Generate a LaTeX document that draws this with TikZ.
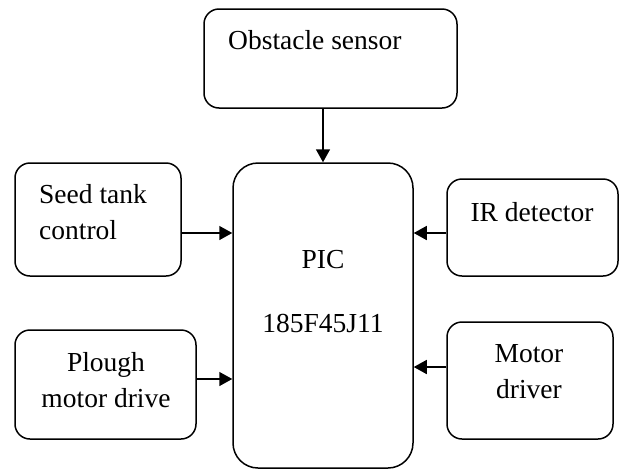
\documentclass[tikz,border=0pt]{standalone}
\usepackage{fontspec}
\setmainfont{Liberation Serif}
\usetikzlibrary{arrows.meta}
\begin{document}
\begin{tikzpicture}[x=1pt,y=-1pt,
  box/.style={draw, line width=1.5pt, rounded corners=15pt, inner sep=0pt},
  lbl/.style={font=\fontsize{27.5}{36}\selectfont, inner sep=0pt},
  arr/.style={line width=1.5pt, -{Triangle[length=13pt,width=14pt]}}]
\useasboundingbox (0,0) rectangle (619,472);
% boxes
\node[box, minimum width=253pt, minimum height=99pt] (obs) at (330.5,58.5) {};
\node[box, rounded corners=25pt, minimum width=180pt, minimum height=305pt] (pic) at (323,315.5) {};
\node[box, minimum width=166pt, minimum height=113pt] (seed) at (98,219.5) {};
\node[box, minimum width=181pt, minimum height=109pt] (plough) at (105.5,384.5) {};
\node[box, minimum width=171pt, minimum height=97pt] (ir) at (532.5,227.5) {};
\node[box, minimum width=166pt, minimum height=117pt] (motor) at (530,380.5) {};
% texts
\node[lbl, anchor=west] (tobs) at (228,40) {Obstacle sensor};
\node[lbl] (tpic1) at (323,260) {PIC};
\node[lbl] (tpic2) at (323,323) {185F45J11};
\node[lbl, anchor=west, align=left] (tseed) at (39,212.5) {Seed tank\\control};
\node[lbl, align=center] (tplough) at (106,380) {Plough\\motor drive};
\node[lbl] (tir) at (532,212) {IR detector};
\node[lbl, align=center] (tmotor) at (529,371.5) {Motor\\driver};
% connector levels
\coordinate (yA) at (0,233);
\coordinate (yB) at (0,379);
\coordinate (yC) at (0,367);
\draw[arr] (obs.south -| pic.north) -- (pic.north);
\draw[arr] (seed.east |- yA) -- (pic.west |- yA);
\draw[arr] (plough.east |- yB) -- (pic.west |- yB);
\draw[arr] (ir.west |- yA) -- (pic.east |- yA);
\draw[arr] (motor.west |- yC) -- (pic.east |- yC);
\end{tikzpicture}
\end{document}
